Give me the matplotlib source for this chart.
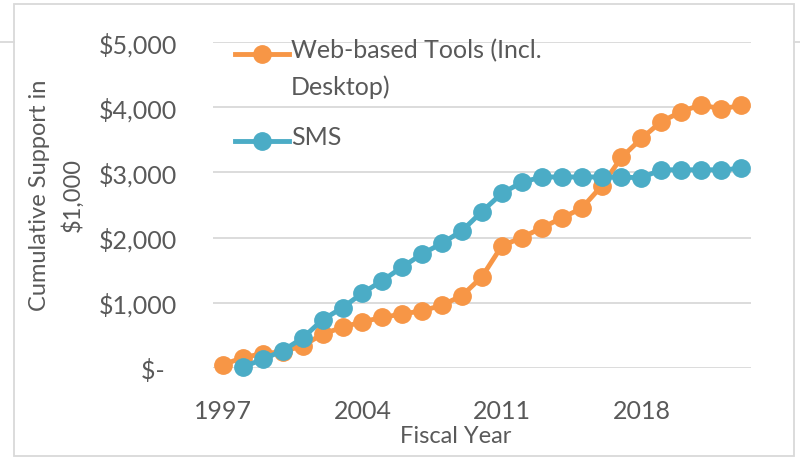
import matplotlib
matplotlib.use("Agg")
import matplotlib.pyplot as plt
from matplotlib.lines import Line2D
from matplotlib.patches import Rectangle
from matplotlib.ticker import FuncFormatter
import numpy as np

# Fiscal years and cumulative support (in $1,000)
years = list(range(1997, 2024))
web_tools = [50, 160, 220, 250, 340, 520, 625, 710, 775, 830, 875, 965, 1110,
             1400, 1875, 2000, 2150, 2300, 2450, 2790, 3230, 3520, 3780, 3930,
             4040, 3970, 4030]
sms_years = list(range(1998, 2024))
sms = [15, 135, 265, 460, 740, 925, 1150, 1340, 1550, 1750, 1915, 2106, 2400,
       2680, 2848, 2930, 2930, 2930, 2930, 2925, 2920, 3040, 3040, 3040, 3040,
       3060]
x_ticks = [1997, 2004, 2011, 2018]
y_ticks = [0, 1000, 2000, 3000, 4000, 5000]

ORANGE = "#F79646"
BLUE = "#4BACC6"
GRID = "#D9D9D9"
TEXT = "#595959"
FONT = ["Lato", "DejaVu Sans"]

plt.rcParams["font.family"] = FONT

W, H = 800, 460
fig = plt.figure(figsize=(W / 100, H / 100), dpi=100)
ax = fig.add_axes([213 / W, 1 - 369 / H, (751 - 213) / W, (369 - 43) / H])

ax.plot(years, web_tools, color=ORANGE, lw=3.5, marker="o", ms=12.5,
        mfc=ORANGE, mec=ORANGE, zorder=3, solid_capstyle="round")
ax.plot(sms_years, sms, color=BLUE, lw=3.5, marker="o", ms=12.5,
        mfc=BLUE, mec=BLUE, zorder=4, solid_capstyle="round")

ax.set_xlim(1996.5, 2023.5)
ax.set_ylim(0, 5000)
ax.set_xticks(x_ticks)
ax.set_yticks(y_ticks)


def money(v, _pos):
    if v == 0:
        return "$-\u00a0\u00a0"
    return "${:,.0f}".format(v)


ax.yaxis.set_major_formatter(FuncFormatter(money))
ax.grid(axis="y", color=GRID, lw=1.3)
ax.set_axisbelow(True)
for s in ax.spines.values():
    s.set_visible(False)
ax.tick_params(axis="both", length=0, labelsize=18, labelcolor=TEXT)
ax.tick_params(axis="y", pad=26)
ax.tick_params(axis="x", pad=22)
for line in ax.get_lines():
    line.set_clip_on(False)

# Legend drawn in axes coordinates so each handle sits on its first text line
legend_rows = [(ORANGE, "Web-based Tools (Incl.\nDesktop)", 0.963),
               (BLUE, "SMS", 0.696)]
for color, label, yy in legend_rows:
    ax.add_line(Line2D([0.040, 0.142], [yy, yy], transform=ax.transAxes,
                       color=color, lw=3.5, clip_on=False))
    ax.add_line(Line2D([0.091], [yy], transform=ax.transAxes, color=color,
                       marker="o", ms=12.5, mec=color, clip_on=False))
    ax.text(0.145, yy + 0.048, label, transform=ax.transAxes, fontsize=18,
            color=TEXT, ha="left", va="top", linespacing=1.65)

# Axis titles
fig.text(456 / W, 1 - 437 / H, "Fiscal Year", fontsize=17, color=TEXT,
         ha="center", va="center")
fig.text(56 / W, 1 - 195 / H, "Cumulative Support in\n$1,000", fontsize=17,
         color=TEXT, ha="center", va="center", rotation=90, linespacing=1.6)

# Chart frame
fig.add_artist(Rectangle((14 / W, 1 - 457 / H), (794 - 14) / W, (457 - 5) / H,
                         transform=fig.transFigure, fill=False, ec=GRID, lw=1.3))
fig.add_artist(Line2D([0, 14 / W], [1 - 43 / H] * 2, transform=fig.transFigure,
                      color=GRID, lw=1.3))
fig.add_artist(Line2D([794 / W, 1], [1 - 43 / H] * 2, transform=fig.transFigure,
                      color=GRID, lw=1.3))

fig.savefig("out.png", dpi=100, facecolor="white")
